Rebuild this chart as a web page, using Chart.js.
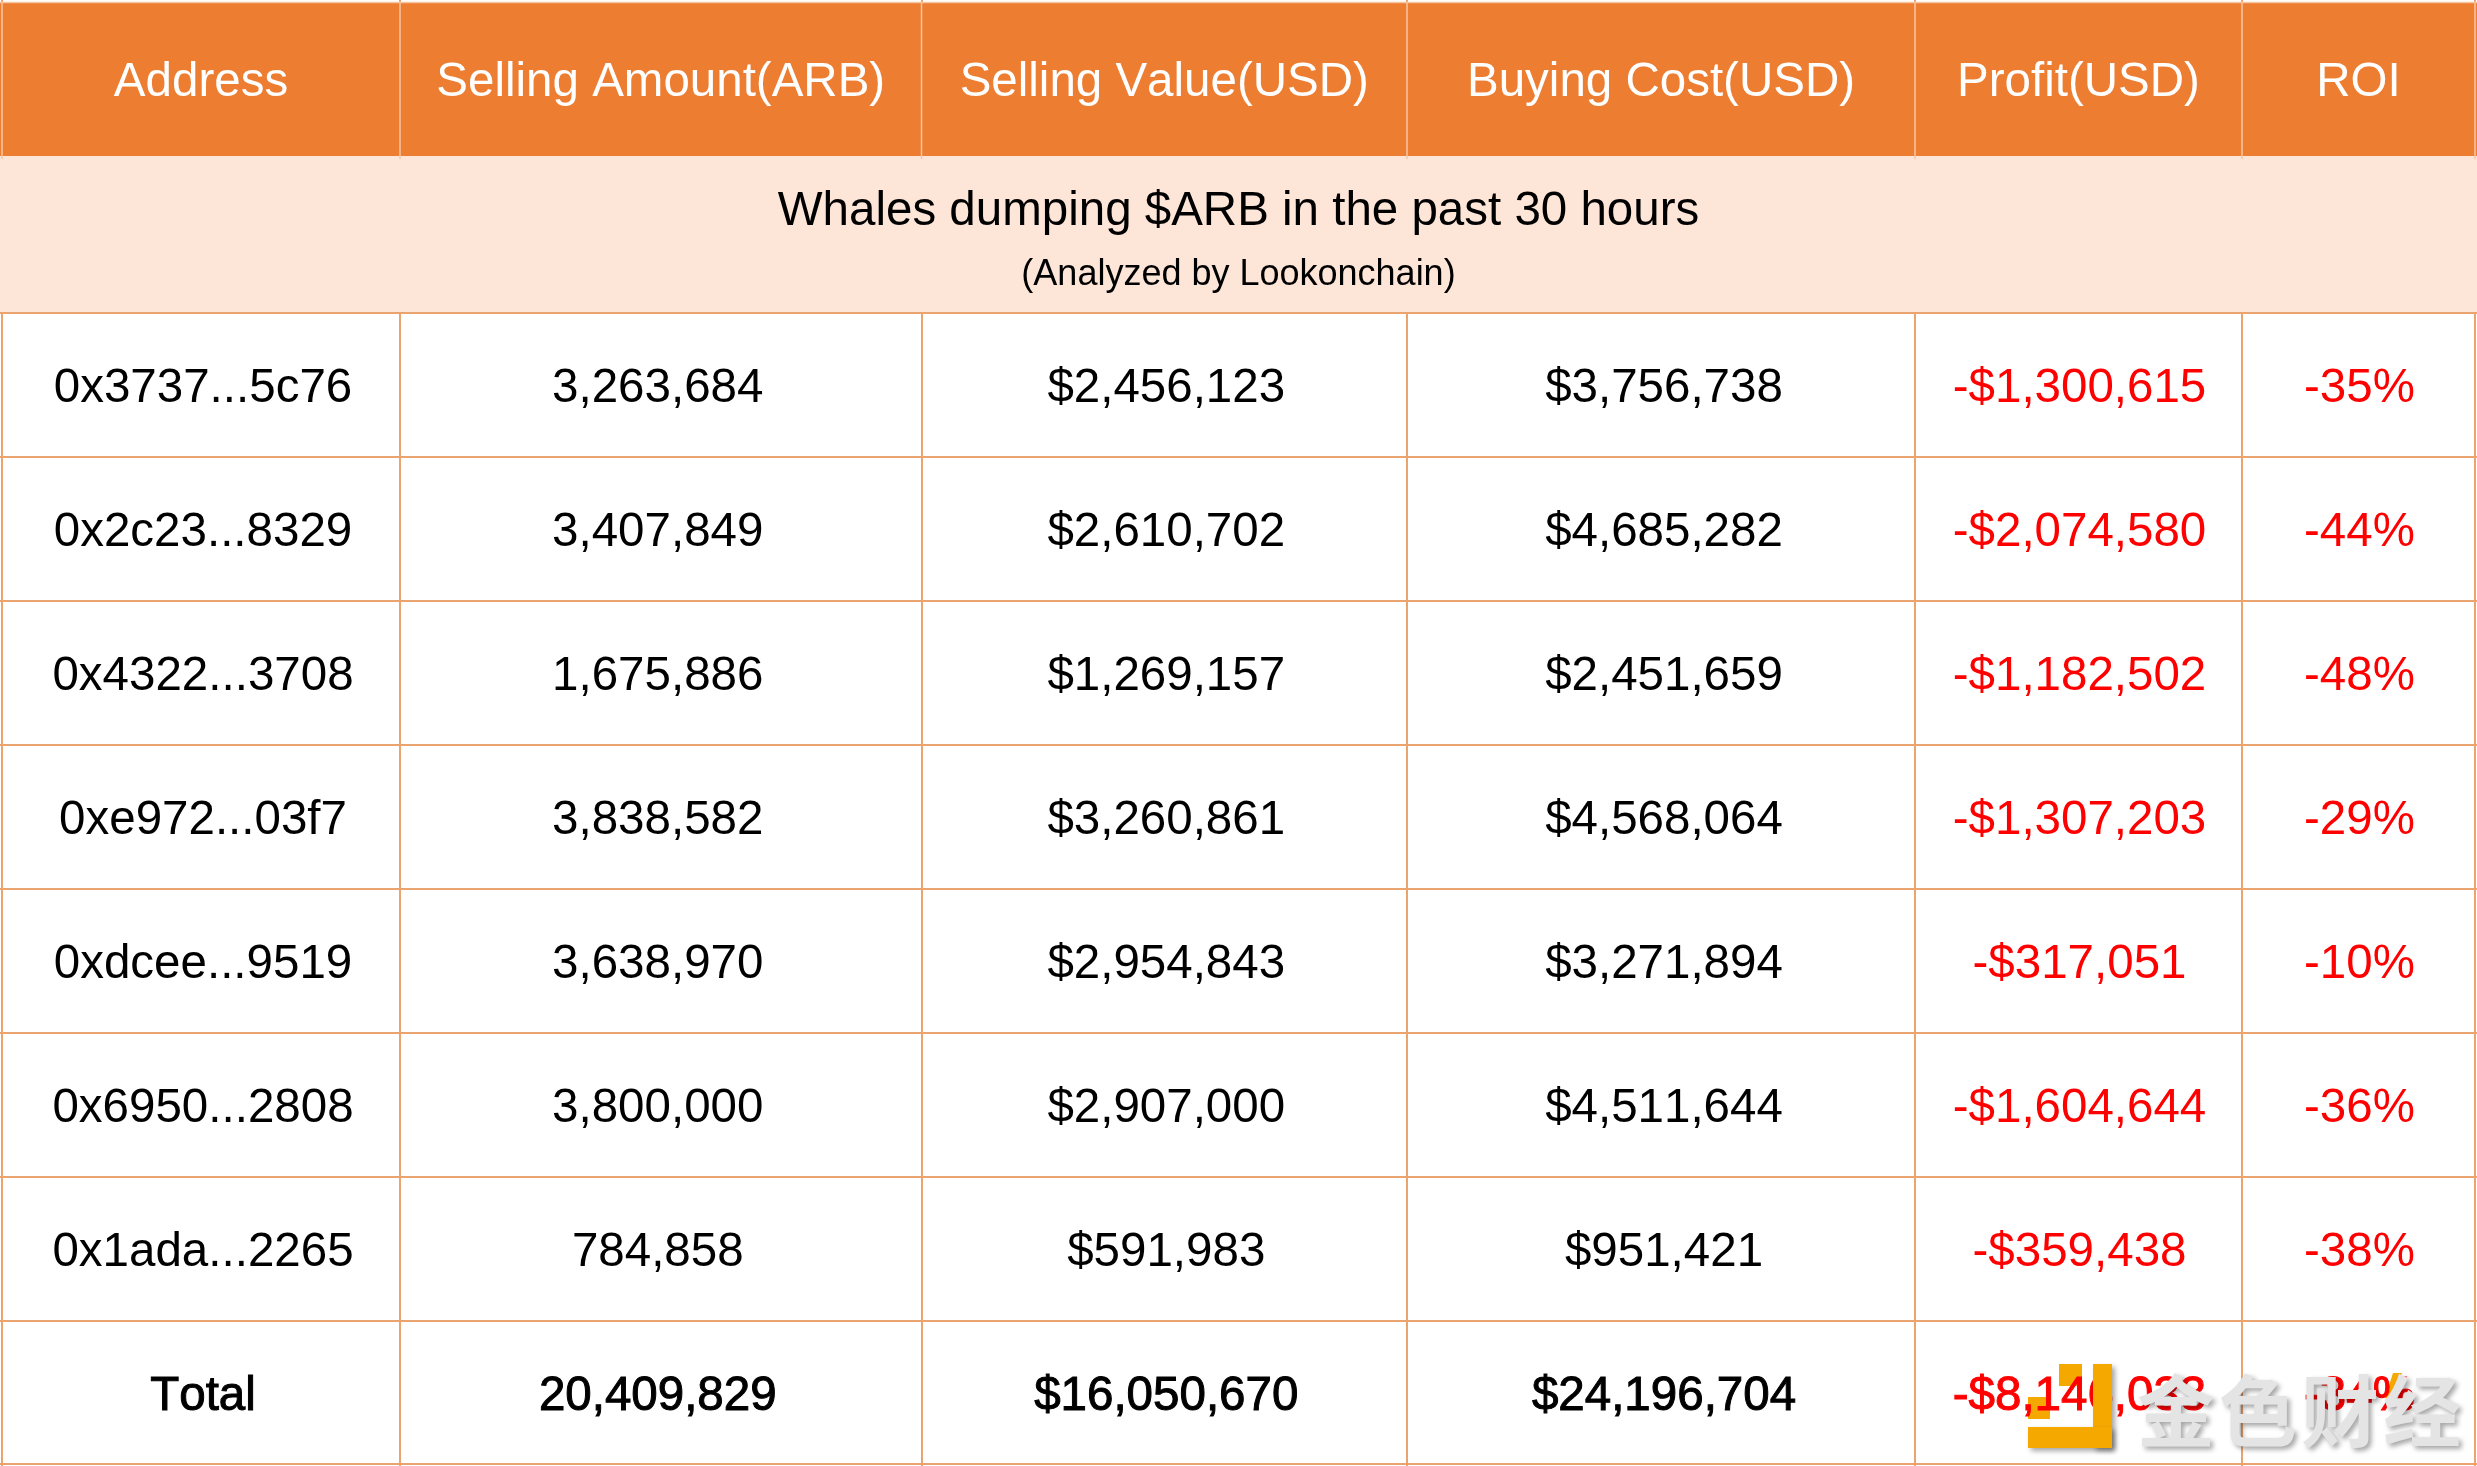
<!DOCTYPE html>
<html>
<head>
<meta charset="utf-8">
<title>Whales dumping $ARB</title>
<script src="https://cdn.jsdelivr.net/npm/chart.js@4/dist/chart.umd.min.js"></script>
<style>
  html, body { margin: 0; padding: 0; background: #fff; }
  canvas { display: block; }
</style>
</head>
<body>
<canvas id="table" width="2477" height="1466"></canvas>
<script>
const columns = ['Address', 'Selling Amount(ARB)', 'Selling Value(USD)', 'Buying Cost(USD)', 'Profit(USD)', 'ROI'];
const addresses = ['0x3737...5c76', '0x2c23...8329', '0x4322...3708', '0xe972...03f7', '0xdcee...9519', '0x6950...2808', '0x1ada...2265', 'Total'];
const sellingAmounts = ['3,263,684', '3,407,849', '1,675,886', '3,838,582', '3,638,970', '3,800,000', '784,858', '20,409,829'];
const sellingValues = ['$2,456,123', '$2,610,702', '$1,269,157', '$3,260,861', '$2,954,843', '$2,907,000', '$591,983', '$16,050,670'];
const buyingCosts = ['$3,756,738', '$4,685,282', '$2,451,659', '$4,568,064', '$3,271,894', '$4,511,644', '$951,421', '$24,196,704'];
const profits = ['-$1,300,615', '-$2,074,580', '-$1,182,502', '-$1,307,203', '-$317,051', '-$1,604,644', '-$359,438', '-$8,146,033'];
const rois = ['-35%', '-44%', '-48%', '-29%', '-10%', '-36%', '-38%', '-34%'];
const titleText = 'Whales dumping $ARB in the past 30 hours';
const subtitleText = '(Analyzed by Lookonchain)';
const watermarkText = '金色财经';

// table layout, in scale units (1 unit = 1 px)
const colEdges = [2, 400, 921.5, 1407, 1915, 2242, 2475];
const colShift = [2, -3, 2, 3, 1, 1];
const headerTop = 2.5;
const headerBottom = 156;
const bandBottom = 312;
const rowEdges = [313, 457, 601, 745, 889, 1033, 1177, 1321, 1464];

const ORANGE = '#ED7D31';
const BAND = '#FDE5D8';
const LINE = '#E9A46F';
const HEADER_LINE = '#F6C6A2';
const LOGO = '#F4A800';
const FONT = '"Liberation Sans", Arial, sans-serif';

function band(top, bottom, color) {
  return {
    data: [{ x: 0, y: top }, { x: 2477, y: top }],
    borderWidth: 0,
    pointRadius: 0,
    fill: { value: bottom },
    backgroundColor: color,
    order: 2
  };
}

function rule(x1, y1, x2, y2) {
  return {
    data: [{ x: x1, y: y1 }, { x: x2, y: y2 }],
    borderColor: HEADER_LINE,
    borderWidth: 1.5,
    pointRadius: 0,
    fill: false,
    order: 1
  };
}

const datasets = [
  band(headerTop, headerBottom, ORANGE),
  band(headerBottom, bandBottom, BAND)
];
colEdges.forEach(x => datasets.push(rule(x, headerTop, x, headerBottom + 3)));
datasets.push(rule(0, headerTop, 2477, headerTop));

const tablePlugin = {
  id: 'tableText',
  afterDatasetsDraw(chart) {
    const { ctx, scales: { x, y } } = chart;
    const cx = i => x.getPixelForValue((colEdges[i] + colEdges[i + 1]) / 2);
    const put = (text, px, py, font, color, stroke) => {
      ctx.font = font;
      ctx.fillStyle = color;
      ctx.fillText(text, px, py);
      if (stroke) {
        ctx.strokeStyle = color;
        ctx.lineWidth = stroke;
        ctx.strokeText(text, px, py);
      }
    };

    ctx.save();
    // parts of the logo that sit under the red text
    ctx.fillStyle = LOGO;
    ctx.fillRect(2028, 1397, 22, 22);
    ctx.fillRect(2059, 1364, 23, 22);
    ctx.beginPath();
    ctx.moveTo(2393, 1373);
    ctx.lineTo(2402, 1373);
    ctx.lineTo(2392, 1400);
    ctx.lineTo(2385, 1398);
    ctx.closePath();
    ctx.fill();

    ctx.textAlign = 'center';
    ctx.textBaseline = 'alphabetic';
    ctx.fontKerning = 'none';

    columns.forEach((name, i) => {
      put(name, cx(i), y.getPixelForValue(96), '47.5px ' + FONT, '#fff');
    });

    const middle = x.getPixelForValue((colEdges[0] + colEdges[6]) / 2);
    put(titleText, middle, y.getPixelForValue(225), '47.5px ' + FONT, '#000');
    put(subtitleText, middle, y.getPixelForValue(285), '36px ' + FONT, '#000');

    const body = [addresses, sellingAmounts, sellingValues, buyingCosts, profits, rois];
    body.forEach((values, c) => {
      values.forEach((text, r) => {
        const base = y.getPixelForValue((rowEdges[r] + rowEdges[r + 1]) / 2 + 17);
        const color = c >= 4 ? '#F00' : '#000';
        put(text, cx(c) + colShift[c], base, '47.5px ' + FONT, color, r === 7 ? 1 : 0);
      });
    });
    ctx.restore();
  },
  afterDraw(chart) {
    // watermark in the bottom right corner
    const { ctx, scales: { x, y } } = chart;
    ctx.save();
    ctx.shadowColor = 'rgba(0,0,0,0.35)';
    ctx.shadowBlur = 5;
    ctx.shadowOffsetX = 3;
    ctx.shadowOffsetY = 3;
    ctx.fillStyle = LOGO;
    ctx.fillRect(2093, 1364, 19, 84);
    ctx.fillRect(2028, 1427, 84, 21);
    ctx.font = 'bold 78px "Noto Sans CJK SC", sans-serif';
    ctx.fillStyle = '#E4E4E4';
    ctx.textAlign = 'left';
    ctx.textBaseline = 'alphabetic';
    ctx.letterSpacing = '4px';
    ctx.fillText(watermarkText, x.getPixelForValue(2137), y.getPixelForValue(1441));
    ctx.restore();
  }
};

new Chart(document.getElementById('table'), {
  type: 'line',
  data: { datasets },
  plugins: [tablePlugin],
  options: {
    responsive: false,
    animation: false,
    devicePixelRatio: 1,
    layout: { padding: 0 },
    plugins: { legend: { display: false }, tooltip: { enabled: false } },
    scales: {
      x: {
        type: 'linear',
        min: 0,
        max: 2477,
        afterBuildTicks: scale => { scale.ticks = colEdges.map(value => ({ value })); },
        afterFit: scale => { scale.height = 0; },
        border: { display: false },
        grid: { color: LINE, lineWidth: 2, drawTicks: false },
        ticks: { display: false }
      },
      y: {
        type: 'linear',
        reverse: true,
        min: 0,
        max: 1466,
        afterBuildTicks: scale => { scale.ticks = rowEdges.map(value => ({ value })); },
        afterFit: scale => { scale.width = 0; },
        border: { display: false },
        grid: { color: LINE, lineWidth: 2, drawTicks: false },
        ticks: { display: false }
      }
    }
  }
});
</script>
</body>
</html>
